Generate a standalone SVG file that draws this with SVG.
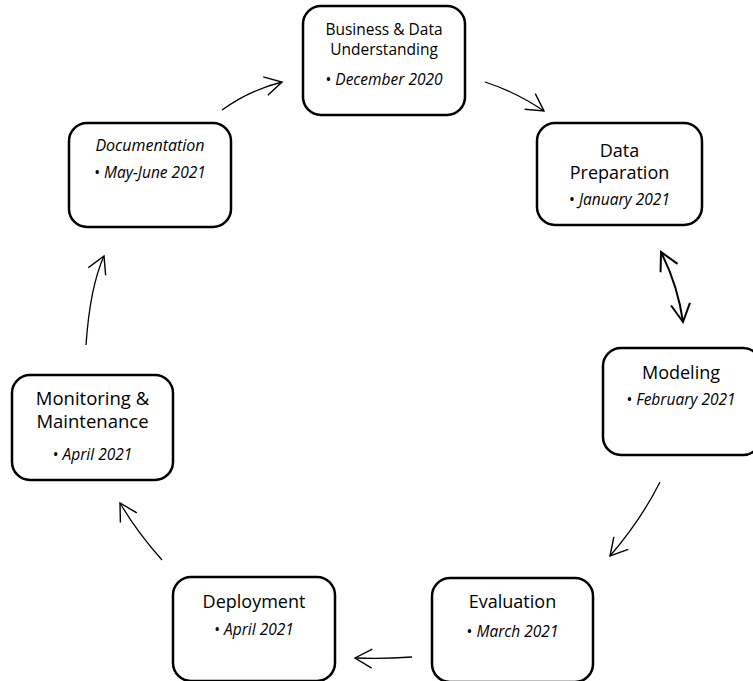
<svg xmlns="http://www.w3.org/2000/svg" width="753" height="681" viewBox="0 0 753 681">
<style>
.box{fill:#fff;stroke:#000;stroke-width:2.5}
.t{font-family:"Open Sans","Liberation Sans",sans-serif;font-size:18px;fill:#000;text-anchor:middle}
.s{font-size:15.5px}
.d{font-family:"Open Sans","Liberation Sans",sans-serif;font-size:15.5px;font-style:italic;fill:#000;text-anchor:middle}
.b{font-style:normal}
.c{fill:none;stroke:#000;stroke-width:1.3}
.c2{fill:none;stroke:#000;stroke-width:2}
</style>
<defs>
<marker id="ah" markerUnits="userSpaceOnUse" viewBox="-20 -12 24 24" refX="0" refY="0" markerWidth="24" markerHeight="24" orient="auto-start-reverse" overflow="visible">
<path d="M-17,-9.5 L0,0 L-17,9.5" fill="none" stroke="#000" stroke-width="1.4"/>
</marker>
<marker id="ah2" markerUnits="userSpaceOnUse" viewBox="-20 -12 24 24" refX="0" refY="0" markerWidth="24" markerHeight="24" orient="auto-start-reverse" overflow="visible">
<path d="M-18,-9.5 L0,0 L-18,9.5" fill="none" stroke="#000" stroke-width="2"/>
</marker>
</defs>
<rect width="753" height="681" fill="#fff"/>
<g id="connectors">
<path class="c" d="M222,110 Q250,90 282,82" marker-end="url(#ah)"/>
<path class="c" d="M485,82 Q516,92 544,111" marker-end="url(#ah)"/>
<path class="c2" d="M661,252 Q678,286 683,322" marker-start="url(#ah2)" marker-end="url(#ah2)"/>
<path class="c" d="M660,482 Q641,520 610,556" marker-end="url(#ah)"/>
<path class="c" d="M412,657 Q384,659 355,658" marker-end="url(#ah)"/>
<path class="c" d="M162,560 Q137,532 120,503" marker-end="url(#ah)"/>
<path class="c" d="M86,345 Q90,287 104,256" marker-end="url(#ah)"/>
</g>
<g id="business">
<rect class="box" x="303" y="6" width="162" height="109" rx="18"/>
<text class="t s" x="384" y="35"><tspan x="384">Business &amp; Data</tspan><tspan x="384" dy="20">Understanding</tspan></text>
<text class="d" x="384" y="85"><tspan class="b">•</tspan> December 2020</text>
</g>
<g id="datapreparation">
<rect class="box" x="537" y="123" width="165" height="102" rx="18"/>
<text class="t" x="619.5" y="157"><tspan x="619.5">Data</tspan><tspan x="619.5" dy="22">Preparation</tspan></text>
<text class="d" x="619.5" y="205"><tspan class="b">•</tspan> January 2021</text>
</g>
<g id="modeling">
<rect class="box" x="603" y="348" width="158" height="107" rx="18"/>
<text class="t" x="681" y="379">Modeling</text>
<text class="d" x="681" y="405"><tspan class="b">•</tspan> February 2021</text>
</g>
<g id="evaluation">
<rect class="box" x="432" y="578" width="161" height="104" rx="18"/>
<text class="t" x="512.5" y="608">Evaluation</text>
<text class="d" x="512.5" y="637"><tspan class="b">•</tspan> March 2021</text>
</g>
<g id="deployment">
<rect class="box" x="173" y="577" width="162" height="104" rx="18"/>
<text class="t" x="254" y="608">Deployment</text>
<text class="d" x="254" y="635"><tspan class="b">•</tspan> April 2021</text>
</g>
<g id="monitoring">
<rect class="box" x="12" y="375" width="161" height="105" rx="18"/>
<text class="t" x="92.5" y="405" style="font-size:18.5px"><tspan x="92.5">Monitoring &amp;</tspan><tspan x="92.5" dy="23">Maintenance</tspan></text>
<text class="d" x="92.5" y="460"><tspan class="b">•</tspan> April 2021</text>
</g>
<g id="documentation">
<rect class="box" x="69" y="123" width="162" height="104" rx="18"/>
<text class="d" x="150" y="151" style="font-size:16px">Documentation</text>
<text class="d" x="150" y="178"><tspan class="b">•</tspan> May-June 2021</text>
</g>
</svg>
